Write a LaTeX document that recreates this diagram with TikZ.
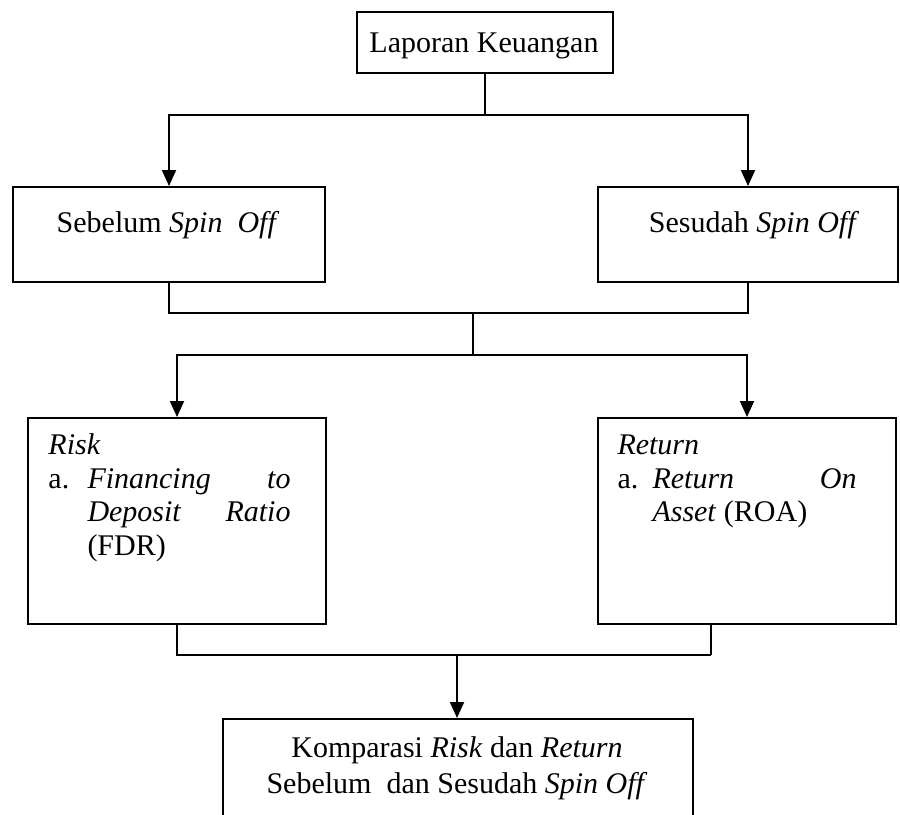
\documentclass[tikz,border=0pt]{standalone}
\usepackage{fontspec}
\setmainfont{Liberation Serif}
\usetikzlibrary{arrows.meta}
\tikzset{
  box/.style={draw, line width=0.8pt, rectangle, inner sep=0pt, anchor=north west},
  txt/.style={inner sep=0pt, anchor=base west, font=\fontsize{12}{13.8}\selectfont},
  flow/.style={line width=0.8pt},
  arrow/.style={flow, -{Triangle[length=6.4pt,width=5.6pt]}}
}
\begin{document}
\begin{tikzpicture}[x=0.4pt,y=-0.4pt]
\useasboundingbox (0,0) rectangle (900,814);
\clip (0,0) rectangle (900,814);
% boxes
\node[box, minimum width=256*0.4pt, minimum height=61*0.4pt] (lap) at (356,11) {};
\node[box, minimum width=312*0.4pt, minimum height=95*0.4pt] (sbl) at (12,186) {};
\node[box, minimum width=300*0.4pt, minimum height=95*0.4pt] (sdh) at (597,186) {};
\node[box, minimum width=298*0.4pt, minimum height=206*0.4pt] (risk) at (27,417) {};
\node[box, minimum width=298*0.4pt, minimum height=206*0.4pt] (ret) at (597,417) {};
\node[box, minimum width=470*0.4pt, minimum height=130*0.4pt] (kom) at (222,718) {};
% texts
\node[txt, anchor=base] (tlap) at (484,52) {Laporan Keuangan};
\node[txt, anchor=base] (tsbl) at (168,232) {Sebelum \textit{Spin\ \ Off}};
\node[txt, anchor=base] (tsdh) at (754,232) {Sesudah \textit{Spin Off}};
\node[txt] (rk1) at (48,454) {\textit{Risk}};
\node[txt] (rk2) at (48,488) {\makebox[15.6pt][l]{a.}\makebox[81.2pt]{\textit{Financing}\hfill\textit{to}}};
\node[txt] (rk3) at (87,521) {\makebox[81.2pt]{\textit{Deposit}\hfill\textit{Ratio}}};
\node[txt] (rk4) at (87,555) {(FDR)};
\node[txt] (rt1) at (617,454) {\textit{Return}};
\node[txt] (rt2) at (617,488) {\makebox[14pt][l]{a.}\makebox[81.6pt]{\textit{Return}\hfill\textit{On}}};
\node[txt] (rt3) at (652,521) {\textit{Asset} (ROA)};
\node[txt, anchor=base] (kom1) at (457,757) {Komparasi \textit{Risk} dan \textit{Return}};
\node[txt, anchor=base] (kom2) at (457,793) {Sebelum\ \ dan Sesudah \textit{Spin Off}};
% junctions
\coordinate (j1) at (484,115);
\coordinate (j2) at (473,313);
\coordinate (j3) at (473,355);
\coordinate (j4) at (711,655);
\coordinate (j5) at (457,655);
% connectors
\draw[flow] (lap.south) -- (lap.south |- j1);
\draw[arrow] (j1) -| (sbl.north);
\draw[arrow] (j1) -| (sdh.north);
\draw[flow] (sbl.south) |- (j2);
\draw[flow] (sdh.south) |- (j2);
\draw[flow] (j2) -- (j3);
\draw[arrow] (j3) -| (risk.north);
\draw[arrow] (j3) -| (ret.north);
\draw[flow] (risk.south) |- (j4);
\draw[flow] (ret.south -| j4) -- (j4);
\draw[arrow] (j5) -- (j5 |- kom.north);
\end{tikzpicture}
\end{document}
